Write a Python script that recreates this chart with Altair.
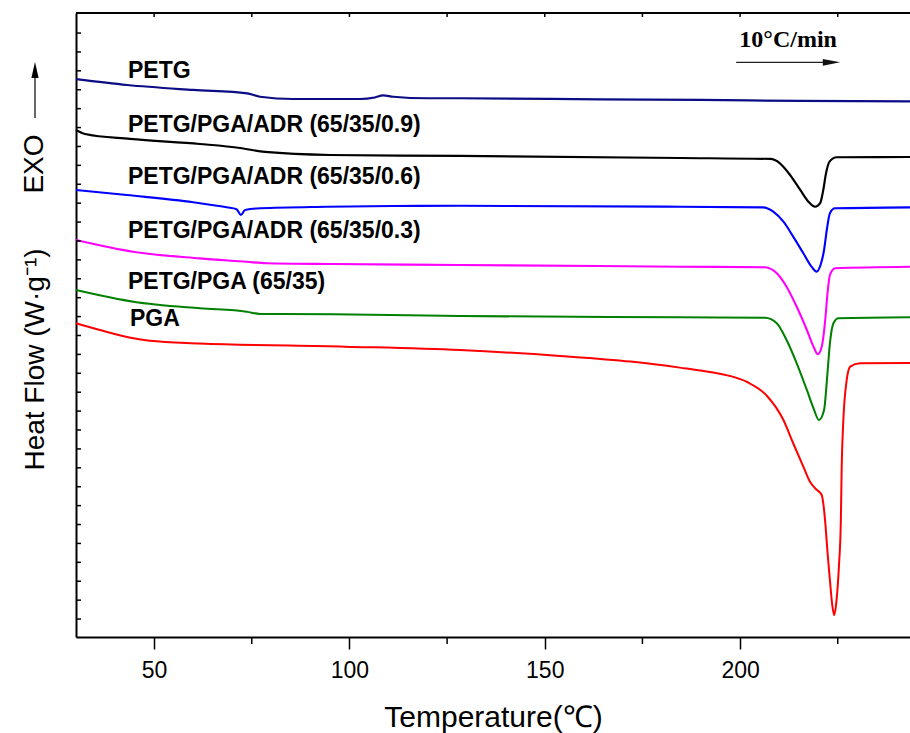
import altair as alt
import pandas as pd

# ---------------- data ----------------
series_names = [
    "PETG",
    "PETG/PGA/ADR (65/35/0.9)",
    "PETG/PGA/ADR (65/35/0.6)",
    "PETG/PGA/ADR (65/35/0.3)",
    "PETG/PGA (65/35)",
    "PGA",
]
series_colors = ["#0c0c84", "#000000", "#0000ff", "#ff00ff", "#008000", "#ff0000"]
series_widths = [2.2, 2.0, 2.2, 2.2, 2.2, 1.6]

petg_t = [30.0, 43.1, 60.0, 73.8, 77.1, 85.6, 102.7, 106.5, 108.6, 111.2, 119.9, 128.3, 164.2, 189.8, 215.4, 243.5]
petg_h = [28.56, 28.25, 27.99, 27.81, 27.63, 27.51, 27.51, 27.59, 27.70, 27.63, 27.55, 27.55, 27.49, 27.46, 27.41, 27.38]

adr09_t = [30.0, 32.3, 43.8, 61.7, 72.0, 78.4, 95.0, 128.3, 184.6, 207.7, 210.2, 212.8, 215.4, 217.5, 219.2,
           220.5, 221.3, 222.0, 222.9, 224.7, 243.5]
adr09_h = [25.87, 25.66, 25.40, 25.13, 24.92, 24.71, 24.55, 24.50, 24.39, 24.34, 24.11, 23.49, 22.70, 22.08, 21.81,
           22.00, 22.70, 23.58, 24.20, 24.43, 24.44]

adr06_t = [30.0, 43.0, 60.0, 68.6, 71.1, 72.2, 73.3, 77.1, 94.2, 111.2, 128.3, 184.6, 205.9, 208.5, 211.1, 213.6,
           216.2, 218.3, 219.6, 220.6, 221.5, 222.2, 223.0, 224.3, 243.5]
adr06_h = [22.70, 22.43, 22.05, 21.78, 21.68, 21.38, 21.64, 21.73, 21.81, 21.85, 21.86, 21.81, 21.78, 21.55, 21.02,
           20.23, 19.35, 18.64, 18.38, 18.73, 19.52, 20.58, 21.47, 21.73, 21.78]

adr03_t = [30.0, 44.6, 61.7, 73.7, 78.8, 95.8, 128.3, 184.6, 206.4, 209.4, 211.9, 214.5, 217.1, 218.8, 219.9,
           220.9, 221.8, 222.3, 223.0, 224.3, 243.5]
adr03_h = [20.05, 19.43, 19.08, 18.90, 18.82, 18.78, 18.73, 18.64, 18.61, 18.29, 17.58, 16.52, 15.29, 14.41, 14.01,
           14.41, 15.82, 17.05, 18.20, 18.56, 18.64]

blend_t = [30.0, 44.7, 61.7, 73.7, 77.1, 95.9, 128.3, 184.6, 206.4, 209.4, 211.9, 214.5, 217.1, 218.8, 220.2,
           221.5, 222.3, 223.0, 223.9, 225.2, 243.5]
blend_h = [17.41, 16.79, 16.44, 16.26, 16.14, 16.12, 16.03, 15.96, 15.94, 15.65, 14.76, 13.53, 12.12, 11.15, 10.53,
           11.06, 12.82, 14.59, 15.65, 15.91, 15.96]

pga_t = [30.0, 36.1, 44.7, 48.9, 61.7, 98.9, 128.3, 153.9, 172.0, 184.6, 193.1, 197.4, 201.8, 206.9, 211.1, 213.6,
         216.2, 217.9, 219.2, 220.9, 221.3, 221.9, 222.4, 223.0, 223.6, 224.1, 224.7, 225.3, 225.8, 226.0, 226.4,
         227.3, 228.2, 230.7, 243.5]
pga_h = [15.65, 15.29, 14.85, 14.72, 14.58, 14.41, 14.23, 13.92, 13.62, 13.30, 13.04, 12.86, 12.54, 11.80, 10.53, 9.30,
         8.06, 7.26, 6.92, 6.56, 6.12, 4.88, 3.48, 2.06, 0.74, 0.21, 1.01, 2.77, 5.24, 7.88, 10.35,
         12.65, 13.35, 13.53, 13.54]

all_t = [petg_t, adr09_t, adr06_t, adr03_t, blend_t, pga_t]
all_h = [petg_h, adr09_h, adr06_h, adr03_h, blend_h, pga_h]

# label positions (temperature, heat flow)
label_t = [43.3, 43.3, 43.3, 43.3, 43.3, 43.8]
label_h = [29.0, 26.14, 23.39, 20.53, 17.83, 15.87]

x_ticks = [50, 100, 150, 200]
x_minor = [75, 125, 175, 225]
x_top_ticks = [50, 75, 100, 125, 150, 175, 200, 225]
y_ticks = list(range(0, 32))

X_DOMAIN = [30, 243.5]
Y_DOMAIN = [-0.95, 32.06]

# ---------------- tables ----------------
rows = []
for name, ts, hs in zip(series_names, all_t, all_h):
    for i, (t, h) in enumerate(zip(ts, hs)):
        rows.append({"series": name, "T": t, "H": h, "i": i})
curves = pd.DataFrame(rows)
labels = pd.DataFrame({"series": series_names, "T": label_t, "H": label_h})

W, H = 834, 624
xs = alt.Scale(domain=X_DOMAIN, nice=False, zero=False)
ys = alt.Scale(domain=Y_DOMAIN, nice=False, zero=False)

color = alt.Color("series:N", scale=alt.Scale(domain=series_names, range=series_colors), legend=None)
size = alt.Size("series:N", scale=alt.Scale(domain=series_names, range=series_widths), legend=None)

lines = alt.Chart(curves).mark_line(interpolate="monotone").encode(
    x=alt.X("T:Q", scale=xs,
            axis=alt.Axis(values=x_ticks, title="Temperature(℃)", grid=False,
                          tickSize=12, tickWidth=1.5, tickColor="black",
                          domainWidth=2, domainColor="black",
                          labelFontSize=23, labelPadding=10, labelColor="black",
                          titleFontSize=30, titleFontWeight="normal", titlePadding=20,
                          titleColor="black")),
    y=alt.Y("H:Q", scale=ys,
            axis=alt.Axis(labels=False, ticks=False, grid=False, domainWidth=2, domainColor="black",
                          title="Heat Flow (W·g⁻¹)", titleFontSize=28, titleFontWeight="normal",
                          titleColor="black", titleX=-27, titleY=346)),
    color=color,
    size=size,
    detail="series:N",
    order="i:Q",
)

text = alt.Chart(labels).mark_text(align="left", baseline="middle", fontWeight="bold",
                                   fontSize=23, font="Liberation Sans", color="black").encode(
    x=alt.X("T:Q", scale=xs), y=alt.Y("H:Q", scale=ys), text="series:N")

# inward ticks on the left axis
left_ticks = alt.Chart(pd.DataFrame({"v": y_ticks})).mark_rule(color="black", strokeWidth=1.5).encode(
    y=alt.Y("v:Q", scale=ys), x=alt.value(0), x2=alt.value(5))
# minor ticks on bottom axis
minor_ticks = alt.Chart(pd.DataFrame({"v": x_minor})).mark_rule(color="black", strokeWidth=1.5).encode(
    x=alt.X("v:Q", scale=xs), y=alt.value(H), y2=alt.value(H + 7))
# top frame and its ticks
top_line = alt.Chart(pd.DataFrame({"a": [0]})).mark_rule(color="black", strokeWidth=2).encode(
    x=alt.value(0), x2=alt.value(W), y=alt.value(0))
top_ticks = alt.Chart(pd.DataFrame({"v": x_top_ticks})).mark_rule(color="black", strokeWidth=1.5).encode(
    x=alt.X("v:Q", scale=xs), y=alt.value(0), y2=alt.value(4))

# heating-rate annotation
rate_df = pd.DataFrame({"T": [199.0], "T2": [223.0], "H": [29.45], "Tt": [212.3], "Ht": [30.28],
                        "Th": [223.4], "txt": ["10°C/min"]})
rate_line = alt.Chart(rate_df).mark_rule(color="#222222", strokeWidth=1.2).encode(
    x=alt.X("T:Q", scale=xs), x2="T2:Q", y=alt.Y("H:Q", scale=ys))
rate_head = alt.Chart(rate_df).mark_point(shape="M1,0L-1,-0.38L-1,0.38Z", filled=True, size=300,
                                          color="#111111", opacity=1).encode(
    x=alt.X("Th:Q", scale=xs), y=alt.Y("H:Q", scale=ys))
rate_text = alt.Chart(rate_df).mark_text(font="Liberation Serif", fontWeight="bold", fontSize=24,
                                         color="black", align="center", baseline="alphabetic").encode(
    x=alt.X("Tt:Q", scale=xs), y=alt.Y("Ht:Q", scale=ys), text="txt:N")

# EXO arrow outside the left axis
exo_df = pd.DataFrame({"txt": ["EXO"]})
exo_text = alt.Chart(exo_df).mark_text(font="Liberation Sans", fontSize=28, angle=270, align="center",
                                       baseline="alphabetic", color="black").encode(
    x=alt.value(-33), y=alt.value(151), text="txt:N")
exo_line = alt.Chart(exo_df).mark_rule(color="black", strokeWidth=1.2).encode(
    x=alt.value(-41), y=alt.value(105), y2=alt.value(62))
exo_head = alt.Chart(exo_df).mark_point(shape="M0,-1L0.45,1L-0.45,1Z", filled=True, size=256,
                                        color="black", opacity=1).encode(
    x=alt.value(-41), y=alt.value(57))

chart = alt.layer(
    lines, text, left_ticks, minor_ticks, top_line, top_ticks,
    rate_line, rate_head, rate_text, exo_line, exo_head, exo_text,
).properties(
    width=W, height=H,
    autosize=alt.AutoSizeParams(type="none"),
    padding={"left": 76, "top": 13, "right": 0, "bottom": 96},
    background="white",
).configure_view(stroke=None).configure_axis(
    labelFont="Liberation Sans", titleFont="Liberation Sans"
)

chart.save("out.html", embed_options={"renderer": "svg", "actions": False})
